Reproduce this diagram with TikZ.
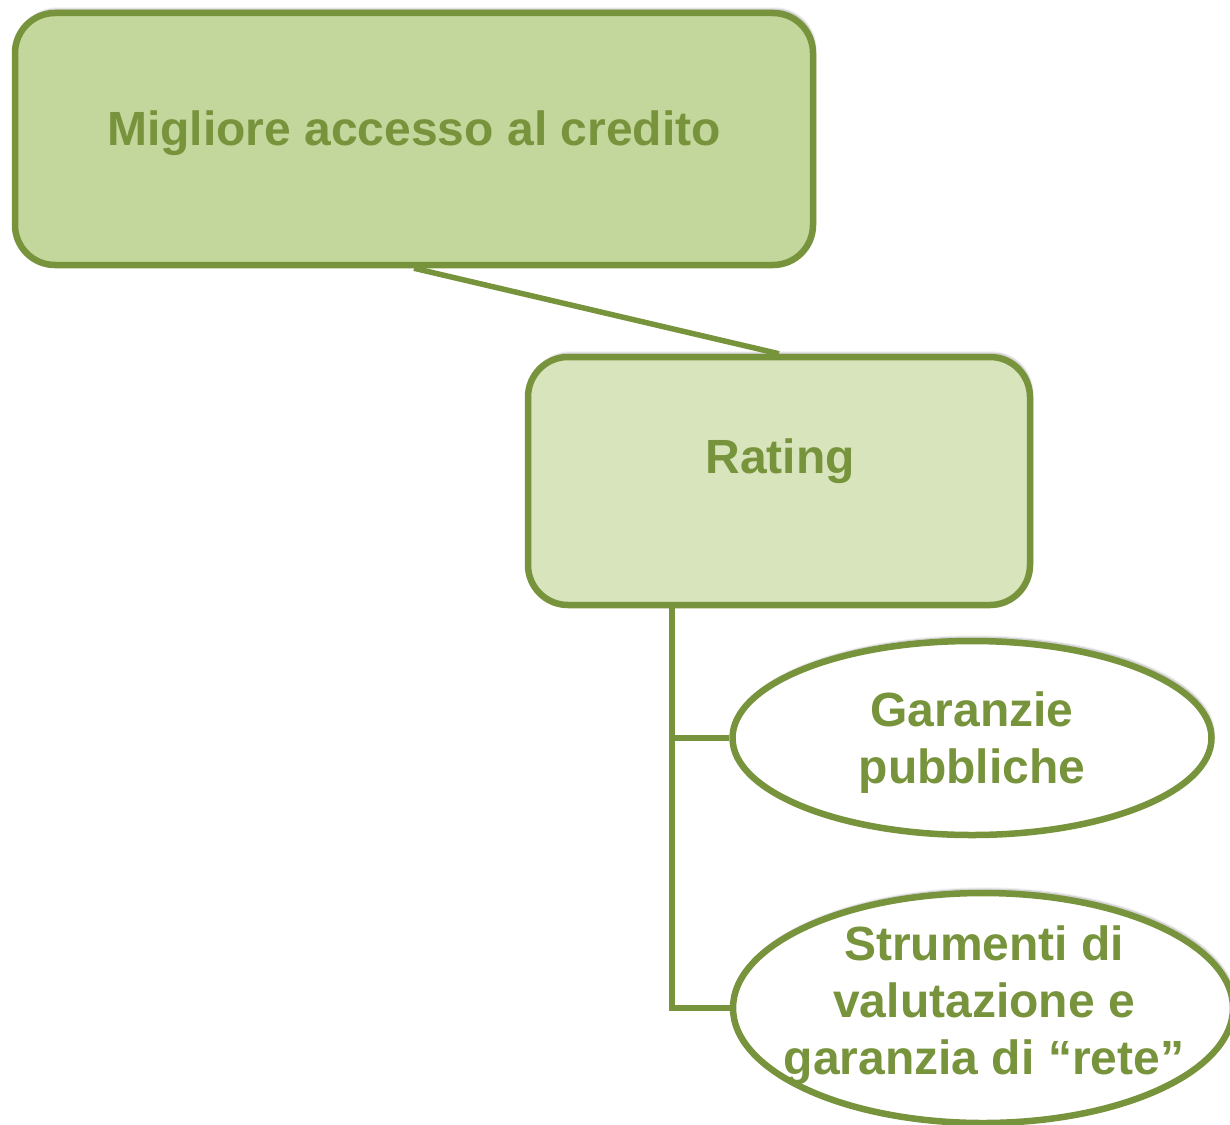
\documentclass[tikz,border=0pt]{standalone}
\usepackage{fontspec}
\setmainfont{Liberation Sans}
\usetikzlibrary{shapes.geometric,shadows.blur}
\definecolor{gline}{HTML}{77933C}
\definecolor{gfillA}{HTML}{C3D69B}
\definecolor{gfillB}{HTML}{D7E4BC}
\tikzset{
  boxA/.style={draw=gline, line width=6.5pt, rounded corners=40pt, fill=gfillA, inner sep=0pt,
    blur shadow={shadow xshift=2pt, shadow yshift=4pt, shadow blur steps=6, shadow opacity=30}},
  boxB/.style={boxA, fill=gfillB},
  oval/.style={draw=gline, line width=6.5pt, ellipse, fill=white, inner sep=0pt, align=center,
    blur shadow={shadow xshift=2pt, shadow yshift=4pt, shadow blur steps=6, shadow opacity=30}},
  lbl/.style={text=gline, font=\fontsize{48}{57}\selectfont\bfseries, align=center, inner sep=0pt},
  conn/.style={draw=gline, line width=5.5pt}
}
\begin{document}
\begin{tikzpicture}[x=1pt,y=-1pt]
\useasboundingbox (0,0) rectangle (1230,1124);
\coordinate (trunk) at (672,1008);
\node[boxA, minimum width=798pt, minimum height=252pt] (top) at (414,139) {};
\node[boxB, minimum width=502pt, minimum height=248pt] (rating) at (779,481) {};
\draw[conn] (top.south) -- (rating.north);
\node[oval, minimum width=479pt, minimum height=194pt] (e1) at (972,738) {};
\node[oval, minimum width=500pt, minimum height=230pt] (e2) at (983,1008) {};
\draw[conn] (trunk |- rating.south) -- (trunk) -- (e2.west);
\draw[conn] (trunk |- e1.west) -- (e1.west);
\node[lbl] (toplbl) at (414,133) {Migliore accesso al credito};
\node[lbl] (ratinglbl) at (780,461) {Rating};
\node[lbl] (e1lbl) at (972,743) {Garanzie\\pubbliche};
\node[lbl] (e2lbl) at (984,1005) {Strumenti di\\valutazione e\\garanzia di “rete”};
\end{tikzpicture}
\end{document}
